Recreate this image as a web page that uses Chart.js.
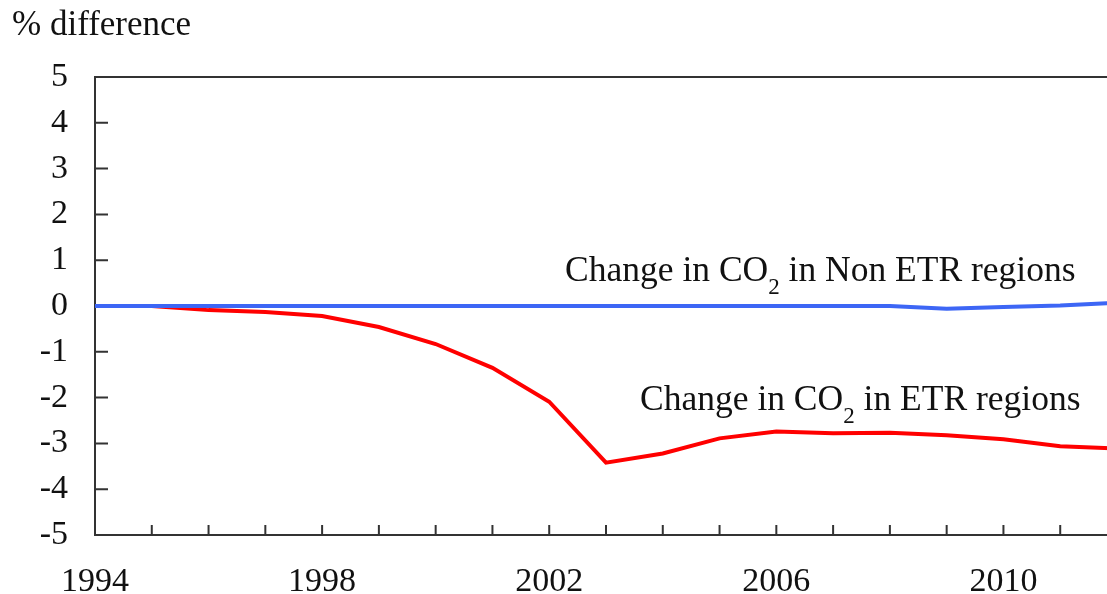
<!DOCTYPE html>
<html>
<head>
<meta charset="utf-8">
<script src="https://cdn.jsdelivr.net/npm/chart.js@4"></script>
<style>
  html, body { margin: 0; padding: 0; overflow: hidden; background: #fff; }
  #wrap { position: relative; width: 1117px; height: 594px; }
</style>
</head>
<body>
<div id="wrap"><canvas id="chart"></canvas></div>
<script>
// years on the x axis
const years = [1994, 1995, 1996, 1997, 1998, 1999, 2000, 2001, 2002, 2003,
               2004, 2005, 2006, 2007, 2008, 2009, 2010, 2011, 2012];
// % difference
const etr    = [0, 0, -0.09, -0.13, -0.22, -0.46, -0.83, -1.35, -2.09, -3.42,
                -3.22, -2.89, -2.74, -2.78, -2.77, -2.82, -2.91, -3.06, -3.11];
const nonEtr = [0, 0, 0, 0, 0, 0, 0, 0, 0, 0,
                0, 0, 0, 0, 0, -0.06, -0.02, 0.01, 0.07];
const yTicks = [-5, -4, -3, -2, -1, 0, 1, 2, 3, 4, 5];
const xLabelYears = [1994, 1998, 2002, 2006, 2010];

const FONT = '"Liberation Serif", "Times New Roman", serif';
const AXIS = '#333';

function pts(vals){
  return years.map((y, i) => ({x: y, y: vals[i]}));
}

// text with a subscript "2" after CO
function drawLabel(ctx, x, y, before, after){
  ctx.font = '35.5px ' + FONT;
  ctx.fillText(before, x, y);
  x += ctx.measureText(before).width;
  ctx.font = '23px ' + FONT;
  ctx.fillText('2', x, y + 13);
  x += ctx.measureText('2').width;
  ctx.font = '35.5px ' + FONT;
  ctx.fillText(after, x, y);
}

const extras = {
  id: 'extras',
  beforeDatasetsDraw(chart){
    const ctx = chart.ctx, a = chart.chartArea;
    const xs = chart.scales.x, ys = chart.scales.y;
    ctx.save();
    ctx.strokeStyle = AXIS;
    ctx.lineWidth = 2;
    ctx.beginPath();
    // inward tick marks
    years.forEach(yr => {
      const px = xs.getPixelForValue(yr);
      ctx.moveTo(px, a.bottom);
      ctx.lineTo(px, a.bottom - 10);
    });
    yTicks.forEach(v => {
      const py = ys.getPixelForValue(v);
      ctx.moveTo(a.left, py);
      ctx.lineTo(a.left + 13, py);
    });
    ctx.stroke();
    ctx.restore();
  },
  afterDraw(chart){
    const ctx = chart.ctx, a = chart.chartArea;
    const xs = chart.scales.x, ys = chart.scales.y;
    ctx.save();
    ctx.fillStyle = '#111';
    ctx.textBaseline = 'alphabetic';
    ctx.textAlign = 'left';
    ctx.font = '35px ' + FONT;
    ctx.fillText('% difference', a.left - 83, 35);
    drawLabel(ctx, xs.getPixelForValue(2002.28), ys.getPixelForValue(0.55),
              'Change in CO', ' in Non ETR regions');
    drawLabel(ctx, xs.getPixelForValue(2003.6), ys.getPixelForValue(-2.26),
              'Change in CO', ' in ETR regions');
    ctx.restore();
  }
};

new Chart(document.getElementById('chart').getContext('2d'), {
  type: 'line',
  data: {
    datasets: [
      {
        label: 'Change in CO2 in Non ETR regions',
        data: pts(nonEtr),
        borderColor: '#3d66f5',
        borderWidth: 4,
        pointRadius: 0,
        tension: 0
      },
      {
        label: 'Change in CO2 in ETR regions',
        data: pts(etr),
        borderColor: '#ff0000',
        borderWidth: 4,
        pointRadius: 0,
        tension: 0
      }
    ]
  },
  options: {
    responsive: true,
    maintainAspectRatio: false,
    animation: false,
    layout: { padding: { top: 77, left: 0, right: 0, bottom: 0 } },
    plugins: {
      legend: { display: false },
      tooltip: { enabled: false }
    },
    scales: {
      x: {
        type: 'linear',
        min: 1994,
        max: 2012,
        afterFit: s => { s.height = 59; s.paddingRight = 0; s.paddingLeft = 0; },
        border: { display: true, color: AXIS, width: 2 },
        grid: { drawOnChartArea: false, drawTicks: false },
        ticks: {
          stepSize: 1,
          autoSkip: false,
          maxRotation: 0,
          padding: 27,
          color: '#111',
          font: { family: FONT, size: 34 },
          callback: v => xLabelYears.includes(v) ? String(v) : ''
        }
      },
      y: {
        min: -5,
        max: 5,
        afterFit: s => { s.width = 95; },
        border: { display: true, color: AXIS, width: 2 },
        grid: {
          drawTicks: false,
          color: c => c.tick && c.tick.value === 5 ? AXIS : 'rgba(0,0,0,0)',
          lineWidth: 2
        },
        ticks: {
          stepSize: 1,
          padding: 27,
          color: '#111',
          font: { family: FONT, size: 34 }
        }
      }
    }
  },
  plugins: [extras]
});
</script>
</body>
</html>
